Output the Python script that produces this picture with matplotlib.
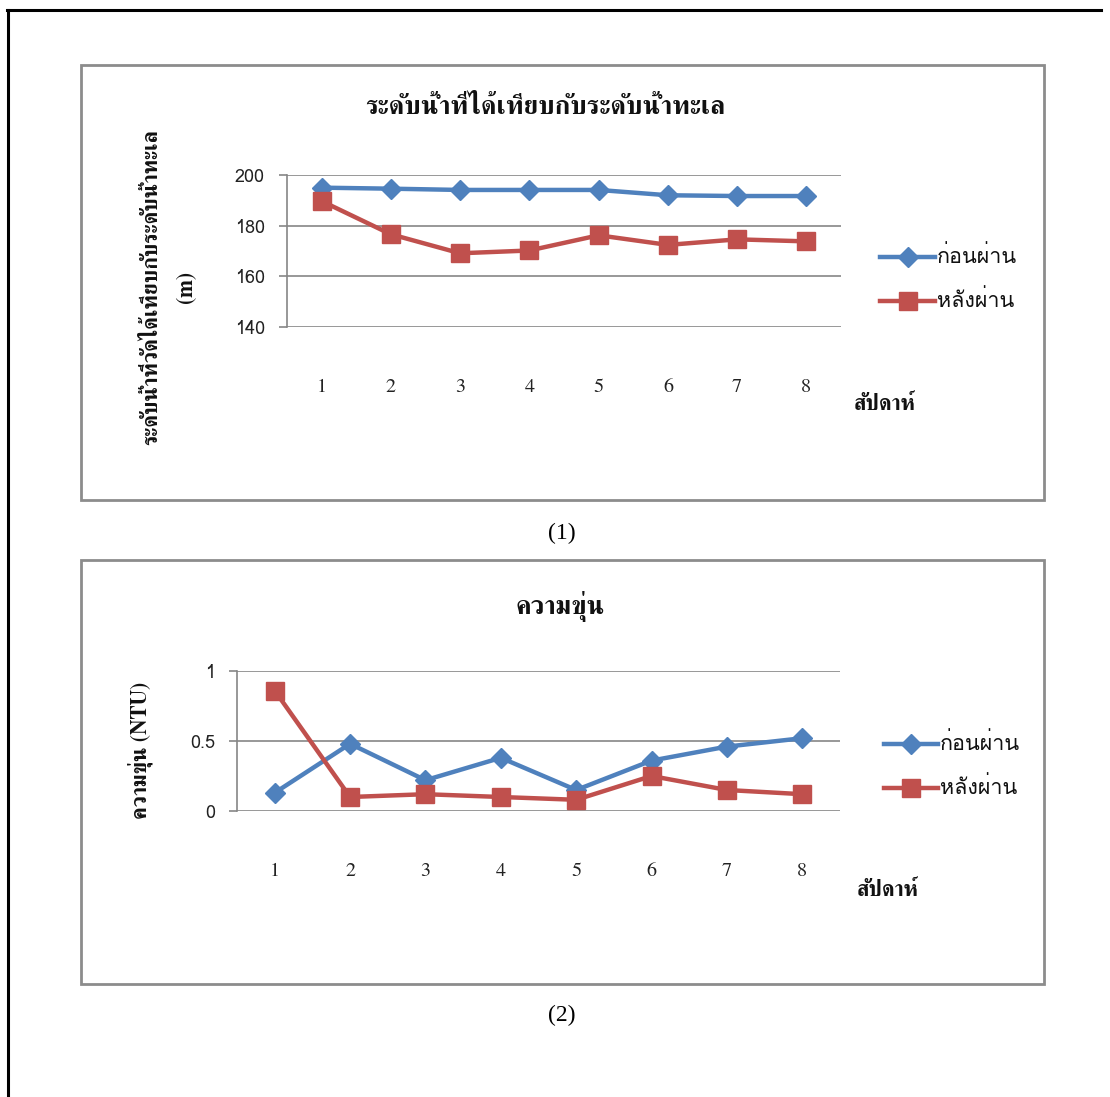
import matplotlib
matplotlib.use("Agg")
import matplotlib.pyplot as plt
from matplotlib import font_manager
from matplotlib.ft2font import FT2Font
from matplotlib.patches import Rectangle
from matplotlib.lines import Line2D

# ---- data -------------------------------------------------------------
weeks = [1, 2, 3, 4, 5, 6, 7, 8]
week_labels = ["1", "2", "3", "4", "5", "6", "7", "8"]
series_names = ["ก่อนผ่าน", "หลังผ่าน"]

level_before = [195.0, 194.6, 194.1, 194.1, 194.1, 192.0, 191.7, 191.7]
level_after = [189.7, 176.6, 169.1, 170.2, 176.2, 172.4, 174.6, 173.8]
level_ticks = [140, 160, 180, 200]

turb_before = [0.13, 0.48, 0.22, 0.38, 0.15, 0.36, 0.46, 0.52]
turb_after = [0.86, 0.10, 0.12, 0.10, 0.08, 0.25, 0.15, 0.12]
turb_ticks = [0, 0.5, 1]
turb_tick_labels = ["0", "0.5", "1"]

title1 = "ระดับน้ำที่ได้เทียบกับระดับน้ำทะเล"
ylabel1 = "ระดับน้ำที่วัดได้เทียบกับระดับน้ำทะเล\n(m)"
title2 = "ความขุ่น"
ylabel2 = "ความขุ่น (NTU)"
xlabel = "สัปดาห์"


# ---- fonts: pick families that carry Thai glyphs ------------------------
def thai_fonts():
    serif, sans = [], []
    seen = set()
    for f in font_manager.fontManager.ttflist:
        if f.name in seen:
            continue
        try:
            cmap = FT2Font(f.fname).get_charmap()
        except Exception:
            continue
        if 0x0E01 in cmap:
            seen.add(f.name)
            low = f.name.lower()
            if "serif" in low or "looped" in low:
                serif.append(f.name)
            else:
                sans.append(f.name)
    return serif, sans


thai_serif, thai_sans = thai_fonts()
SERIF = thai_serif + ["Liberation Serif", "DejaVu Serif"]
SANS = thai_sans + ["Liberation Sans", "DejaVu Sans"]
if not thai_serif:
    SERIF = thai_sans + SERIF

W, H = 1110, 1097
fig = plt.figure(figsize=(W / 100, H / 100), dpi=100)

BLUE = "#4F81BD"
RED = "#C0504D"
GRID = "#868686"


def fx(x):
    return x / W


def fy(y):
    return 1 - y / H


# page border (top and left edges)
fig.add_artist(Line2D([fx(8), fx(8)], [fy(10), fy(1100)], color="black", lw=2.2))
fig.add_artist(Line2D([fx(7), fx(1101)], [fy(10), fy(10)], color="black", lw=2.2))


def chart_box(top, bottom):
    fig.add_artist(Rectangle((fx(81), fy(bottom)), fx(1044) - fx(81), fy(top) - fy(bottom),
                             fill=False, edgecolor="#8c8c8c", lw=2.0))


def make_axes(left, right, top, bottom):
    return fig.add_axes([fx(left), fy(bottom), fx(right) - fx(left), fy(top) - fy(bottom)])


def style_axes(ax, ymin, ymax, ticks, tick_labels, label_pad):
    ax.set_xlim(0.5, 8.5)
    ax.set_ylim(ymin, ymax)
    ax.set_yticks(ticks)
    ax.set_yticklabels(tick_labels, family=SANS, fontsize=13, color="#222222")
    ax.set_xticks(weeks)
    ax.set_xticklabels(week_labels, family=SERIF, fontsize=14.5, color="#222222")
    ax.tick_params(axis="x", length=0, pad=label_pad)
    ax.tick_params(axis="y", length=6, width=1.2, color=GRID, direction="out", pad=10)
    for side in ("top", "right", "bottom"):
        ax.spines[side].set_visible(False)
    ax.spines["left"].set_color(GRID)
    ax.spines["left"].set_linewidth(1.2)
    ax.yaxis.grid(True, color=GRID, lw=1.2)
    ax.set_axisbelow(True)
    ax.patch.set_alpha(0)
    for sp in ax.spines.values():
        sp.set_clip_on(False)


def plot_series(ax, before, after):
    hb, = ax.plot(weeks, before, color=BLUE, lw=3.2, marker="D", ms=10,
                  markeredgecolor=BLUE, clip_on=False, zorder=3)
    ha, = ax.plot(weeks, after, color=RED, lw=3.2, marker="s", ms=13,
                  markeredgecolor=RED, clip_on=False, zorder=4)
    return hb, ha


def legend_entries(y_first, y_second, x0, x1):
    for y, color, marker, ms, name in [(y_first, BLUE, "D", 10, series_names[0]),
                                       (y_second, RED, "s", 13, series_names[1])]:
        fig.add_artist(Line2D([fx(x0), fx(x1)], [fy(y), fy(y)], color=color, lw=3.2))
        fig.add_artist(Line2D([fx((x0 + x1) / 2)], [fy(y)], color=color, marker=marker,
                              ms=ms, markeredgecolor=color, lw=0))
        fig.text(fx(x1 + 2), fy(y), name, family=SANS, fontsize=15.5, ha="left",
                 va="center", color="#111111")


# ---- chart 1: water level ---------------------------------------------
chart_box(65, 500)
ax1 = make_axes(287, 841, 175, 327)
style_axes(ax1, 140, 200, level_ticks, [str(t) for t in level_ticks], 37)
plot_series(ax1, level_before, level_after)
fig.text(fx(545), fy(107), title1, family=SERIF, fontsize=19, weight="bold",
         ha="center", va="center", color="#111111")
fig.text(fx(169), fy(287), ylabel1, family=SERIF, fontsize=15.5, weight="bold",
         rotation=90, ha="center", va="center", multialignment="center",
         linespacing=1.9, color="#111111")
fig.text(fx(885), fy(405), xlabel, family=SERIF, fontsize=15.5, weight="bold",
         ha="center", va="center", color="#111111")
legend_entries(257, 301, 880, 935)
fig.text(fx(562), fy(533), "(1)", family=["Liberation Serif", "DejaVu Serif"],
         fontsize=17, ha="center", va="center", color="black")

# ---- chart 2: turbidity -----------------------------------------------
chart_box(560, 984)
ax2 = make_axes(237, 840, 671, 811)
style_axes(ax2, 0, 1, turb_ticks, turb_tick_labels, 37)
plot_series(ax2, turb_before, turb_after)
fig.text(fx(560), fy(607), title2, family=SERIF, fontsize=19, weight="bold",
         ha="center", va="center", color="#111111")
fig.text(fx(140), fy(750), ylabel2, family=SERIF, fontsize=15.5, weight="bold",
         rotation=90, ha="center", va="center", color="#111111")
fig.text(fx(888), fy(890), xlabel, family=SERIF, fontsize=15.5, weight="bold",
         ha="center", va="center", color="#111111")
legend_entries(744, 788, 884, 938)
fig.text(fx(562), fy(1015), "(2)", family=["Liberation Serif", "DejaVu Serif"],
         fontsize=17, ha="center", va="center", color="black")

fig.savefig("out.png", dpi=100, facecolor="white")
